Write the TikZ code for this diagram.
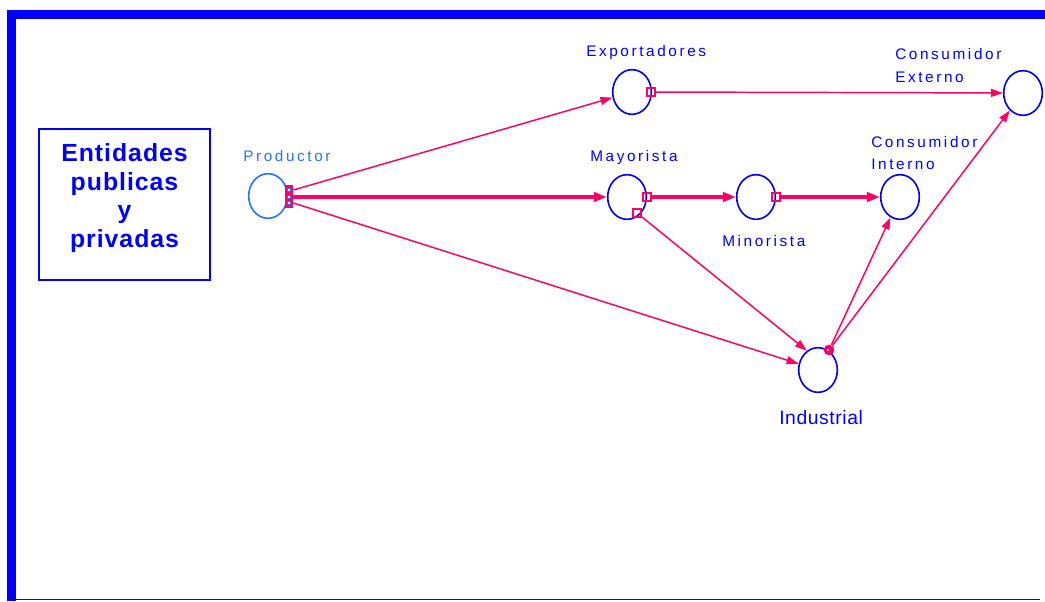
\documentclass[tikz,border=0pt]{standalone}
\usepackage{fontspec}
\setmainfont{Liberation Sans}
\newfontfamily\lblfont[LetterSpace=17]{Liberation Sans}
\newfontfamily\indfont[LetterSpace=3]{Liberation Sans}
\newfontfamily\boxfont[LetterSpace=4]{Liberation Sans}
\usetikzlibrary{arrows.meta,shapes.geometric}
\definecolor{framblue}{RGB}{0,0,255}
\definecolor{prodblue}{RGB}{40,115,255}
\definecolor{flow}{RGB}{255,0,102}
\begin{document}
\begin{tikzpicture}[x=0.75pt,y=-0.75pt,
  stock/.style={ellipse, draw=framblue, line width=1.2pt, minimum width=29pt,
    minimum height=33.5pt, inner sep=0pt},
  lbl/.style={text=framblue, font=\lblfont\fontsize{11.5pt}{14pt}\selectfont,
    inner sep=0pt, anchor=base west},
  boxtxt/.style={text=framblue, font=\boxfont\bfseries\fontsize{18.6pt}{22pt}\selectfont,
    inner sep=0pt, anchor=base},
  flowthin/.style={draw=flow, line width=1.1pt, -{Triangle[length=9pt,width=6pt]}},
  flowthick/.style={draw=flow, line width=3pt, -{Triangle[length=9.75pt,width=7pt]}},
  port/.style={rectangle, draw=flow, line width=1.1pt, minimum size=6pt, inner sep=0pt},
  inport/.style={rectangle, fill=white, draw=prodblue, line width=0.4pt, minimum size=2.6pt, inner sep=0pt}
]
\useasboundingbox (0,0) rectangle (1045,601);

% frame
\fill[framblue] (7,10) rectangle (1045,19);
\fill[framblue] (7,10) rectangle (16,601);
\fill[framblue] (7,598.6) rectangle (1040,600.4);

% side box
\node[draw=framblue, line width=1.5pt, minimum width=128.25pt, minimum height=113.25pt,
  inner sep=0pt] (ent) at (124.5,204.5) {};
\node[boxtxt] (ent1) at (124.5,161) {Entidades};
\node[boxtxt] (ent2) at (124.5,190) {publicas};
\node[boxtxt] (ent3) at (124.5,218.5) {y};
\node[boxtxt] (ent4) at (124.5,247) {privadas};

% stocks
\node[stock, draw=prodblue] (prod) at (268,196) {};
\node[stock] (exp) at (632,92) {};
\node[stock] (cext) at (1023,93) {};
\node[stock] (may) at (627,197) {};
\node[stock] (min) at (756,197) {};
\node[stock] (cint) at (900,197) {};
\node[stock] (ind) at (818,370) {};

% labels
\node[lbl, text=prodblue] (lprod) at (243,161) {Productor};
\node[lbl] (lexp) at (586,56) {Exportadores};
\node[lbl] (lce1) at (895,59) {Consumidor};
\node[lbl] (lce2) at (895,82) {Externo};
\node[lbl] (lmay) at (590,161) {Mayorista};
\node[lbl] (lmin) at (722,246) {Minorista};
\node[lbl] (lci1) at (871,147) {Consumidor};
\node[lbl] (lci2) at (871,169) {Interno};
\node[lbl, font=\indfont\fontsize{14.5pt}{17pt}\selectfont] (lind) at (779,424) {Industrial};

% output block of Productor
\node[rectangle, fill=flow, minimum width=6pt, minimum height=17.25pt, inner sep=0pt]
  (pout) at (289,196.5) {};
\node[inport] (pa) at (289,190) {};
\node[inport] (pb) at (289,197) {};
\node[inport] (pc) at (289,203) {};

% ports on the other stocks
\node[port] (eo) at (651,92) {};
\node[port] (mo) at (647,197) {};
\node[port] (mb) at (637,213) {};
\node[port] (no) at (776,197) {};
\node[circle, fill=flow, minimum size=8pt, inner sep=0pt] (iblob) at (829,350) {};
\node[circle, fill=white, minimum size=1.8pt, inner sep=0pt] (idot) at (828,350) {};

% flows
\draw[flowthin] (pout.east|-pa) -- (exp);
\draw[flowthick] (pout.east|-pb) -- (may);
\draw[flowthin] (pout.east|-pc) -- (ind);
\draw[flowthin] (eo) -- (cext);
\draw[flowthick] (mo) -- (min);
\draw[flowthick] (no) -- (cint);
\draw[flowthin] (mb) -- (ind.120);
\draw[flowthin] (iblob) -- (cint);
\draw[flowthin] (iblob) -- (cext);
\end{tikzpicture}
\end{document}
